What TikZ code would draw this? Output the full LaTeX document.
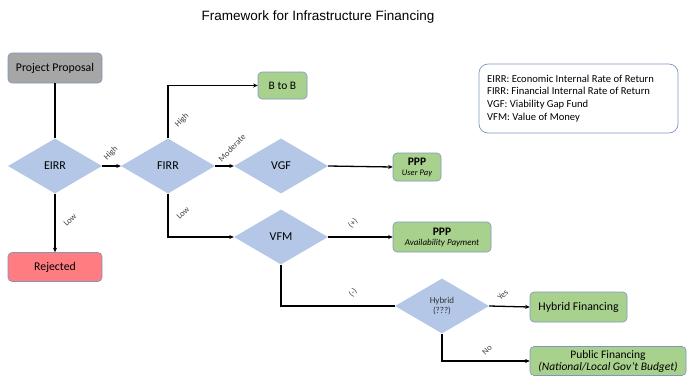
\documentclass[tikz,border=0pt]{standalone}
\usepackage{fontspec}
\setmainfont{Carlito}
\newfontfamily\titlefont{Liberation Sans}
\usetikzlibrary{shapes.geometric,arrows.meta}
\definecolor{dblue}{HTML}{B4C7E7}
\definecolor{gfill}{HTML}{A9D18E}
\definecolor{bord}{HTML}{7F96C0}
\definecolor{gray1}{HTML}{A6A6A6}
\definecolor{redf}{HTML}{FF7C80}
\tikzset{
  dec/.style={diamond, fill=dblue, draw=none, minimum width=94pt, minimum height=55pt, inner sep=0pt, font=\fontsize{12}{14}\selectfont},
  gbox/.style={rectangle, rounded corners=4pt, fill=gfill, draw=bord, line width=0.6pt, align=center, inner sep=1pt},
  conn/.style={line width=1.3pt, -{Stealth[length=4.5pt,width=4pt]}},
  plain/.style={line width=1.3pt},
  lab/.style={font=\fontsize{8.5}{9}\selectfont, rotate=45, inner sep=0pt, text=black!75}
}
\begin{document}
\begin{tikzpicture}[x=1pt,y=-1pt]
\useasboundingbox (0,0) rectangle (688,376);
\node (title) at (318,17) {\titlefont\fontsize{13.5}{15}\selectfont Framework for Infrastructure Financing};

\node (pp) [rectangle, rounded corners=4pt, fill=gray1, draw=bord, line width=0.6pt, minimum width=94pt, minimum height=30pt, font=\fontsize{11.8}{13}\selectfont] at (55,68) {Project Proposal};
\node (eirr) [dec] at (55,166) {EIRR};
\node (firr) [dec] at (168,166) {FIRR};
\node (vgf) [dec] at (281,166) {VGF};
\node (vfm) [dec] at (281,237) {VFM};
\node (hyb) [dec, font=\fontsize{9}{10.5}\selectfont, align=center, text=black!80] at (442,306) {Hybrid\\(???)};
\node (rej) [rectangle, rounded corners=4pt, fill=redf, draw=bord, line width=0.6pt, minimum width=94pt, minimum height=29pt, font=\fontsize{11.8}{13}\selectfont] at (55,267) {Rejected};
\node (btob) [gbox, minimum width=49pt, minimum height=27pt, font=\fontsize{11.5}{13}\selectfont] at (282.5,85.5) {B to B};
\node (pppu) [gbox, minimum width=48pt, minimum height=28pt] at (417,167) {{\fontsize{11.5}{12}\selectfont\bfseries PPP}\\[-2pt]{\fontsize{8.5}{9}\selectfont\itshape User Pay}};
\node (pppa) [gbox, minimum width=98pt, minimum height=30pt] at (442,237) {{\fontsize{11.5}{12}\selectfont\bfseries PPP}\\[-2pt]{\fontsize{9}{9.5}\selectfont\itshape Availability Payment}};
\node (hf) [gbox, minimum width=97pt, minimum height=30pt, font=\fontsize{11.8}{13}\selectfont] at (578.5,307) {Hybrid Financing};
\node (pf) [gbox, minimum width=156pt, minimum height=29pt, font=\fontsize{11.5}{12}\selectfont] at (608,361) {Public Financing\\{\itshape (National/Local Gov't Budget)}};
\node (leg) [rectangle, rounded corners=9pt, draw=bord, line width=0.7pt, minimum width=199pt, minimum height=69pt] at (578.5,98.5) {};
\node (legt) [anchor=north west, align=left, font=\fontsize{10.6}{12.7}\selectfont, inner sep=0pt] at (487,74.5) {EIRR: Economic Internal Rate of Return\\FIRR: Financial Internal Rate of Return\\VGF: Viability Gap Fund\\VFM: Value of Money};

\draw[plain] (pp.south) -- (eirr.north);
\draw[conn] (eirr.east) -- (firr.west);
\node[lab] at (111,153) {High};
\draw[conn] (eirr.south) -- (rej.north);
\node[lab] at (70,220) {Low};
\draw[conn] (firr.north) |- (btob.west);
\node[lab] at (182,120) {High};
\draw[conn] (firr.east) -- (vgf.west);
\node[lab] at (232,148) {Moderate};
\draw[conn] (firr.south) |- (vfm.west);
\node[lab] at (183,213) {Low};
\draw[conn] (vgf.east) -- (pppu.west);
\draw[conn] (vfm.east) -- (pppa.west);
\node[lab] at (353,223) {(+)};
\draw[plain] (vfm.south) |- (hyb.west);
\node[lab] at (353,293) {(-)};
\draw[conn] (hyb.east) -- (hf.west);
\node[lab] at (503,295) {Yes};
\draw[conn] (hyb.south) |- (pf.west);
\node[lab] at (487,350) {No};
\end{tikzpicture}
\end{document}
